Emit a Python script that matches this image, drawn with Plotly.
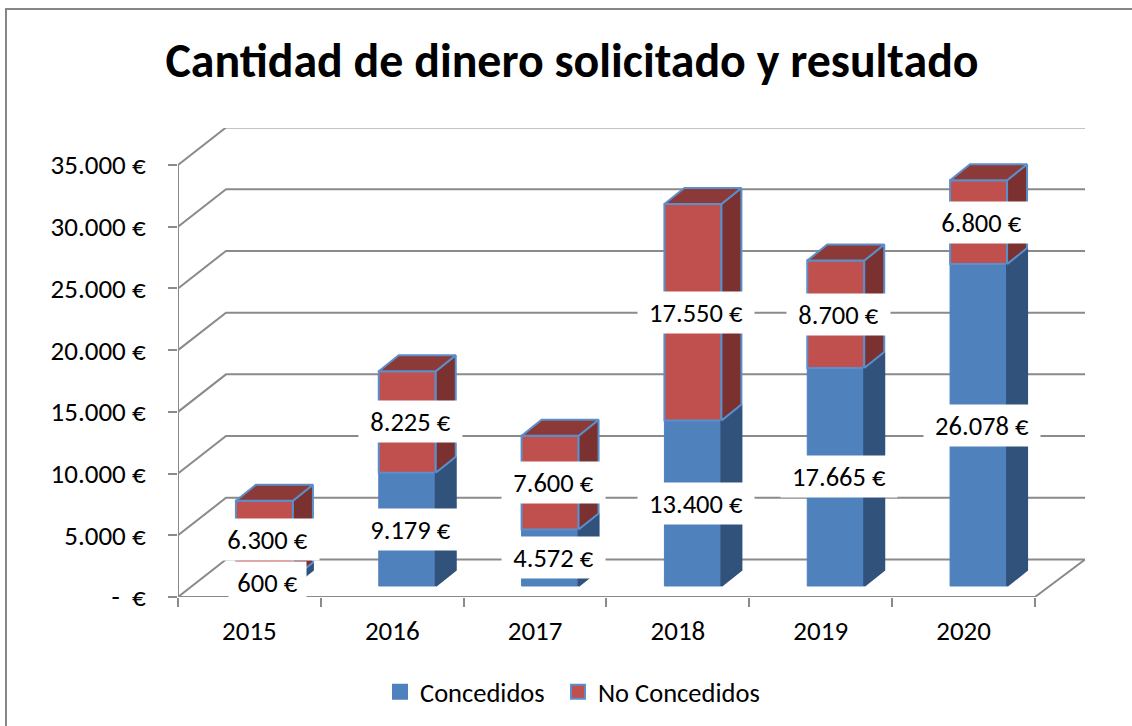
import plotly.graph_objects as go

years = ["2015", "2016", "2017", "2018", "2019", "2020"]
concedidos = [600, 9179, 4572, 13400, 17665, 26078]
no_concedidos = [6300, 8225, 7600, 17550, 8700, 6800]
y_ticks = [0, 5000, 10000, 15000, 20000, 25000, 30000, 35000]
y_tick_labels = ["-  €", "5.000 €", "10.000 €", "15.000 €", "20.000 €", "25.000 €", "30.000 €", "35.000 €"]

# layout geometry (pixels in the 1132x726 canvas)
L, R, T, B = 178, 1085, 128, 597
W, H = 1132, 726
PX_CAT = 142.83
PX_VAL = 12.343 / 1000
FONT = "Carlito, Lato, sans-serif"
BLUE, RED = "#4F81BD", "#C0504D"
BLUE_SIDE, RED_SIDE, RED_TOP = "#31527B", "#7B3130", "#8B3A38"
EDGE = "#5B8FCB"
GRID = "#8A8A8A"
label_shift = 3

x_lo = -0.5
x_hi = x_lo + (R - L) / PX_CAT
y_hi = (B - T) / PX_VAL
dx2 = 15 / PX_CAT
dy2 = 11 / PX_VAL
bar_w = 57 / PX_CAT
depth_x = 20 / PX_CAT
depth_y = 16 / PX_VAL
wall_x = 48 / PX_CAT
wall_y = 37.5 / PX_VAL
xs = list(range(len(years)))

fig = go.Figure()

# walls, floor and gridlines
gx, gy = [], []
for v in y_ticks:
    gx += [x_lo, x_lo + wall_x, x_hi, None]
    gy += [v, v + wall_y, v + wall_y, None]
gx += [x_lo, x_lo, None, x_lo, x_lo + len(years), x_hi - 0.0, None]
gy += [0, y_ticks[-1], None, 0, 0, wall_y, None]
fig.add_trace(go.Scatter(x=gx, y=gy, mode="lines", line=dict(color=GRID, width=2), cliponaxis=False,
                         showlegend=False, hoverinfo="skip"))

# front faces
fig.add_trace(go.Bar(x=xs, y=concedidos, name="Concedidos", width=bar_w, xaxis="x2", yaxis="y2",
                     showlegend=False, marker=dict(color=BLUE, line=dict(color=BLUE, width=1))))
fig.add_trace(go.Bar(x=xs, y=no_concedidos, base=concedidos, name="No Concedidos", width=bar_w,
                     showlegend=False, xaxis="x2", yaxis="y2",
                     marker=dict(color=RED, line=dict(color=EDGE, width=2))))


def poly(faces, color, edge):
    px, py = [], []
    for f in faces:
        px += [p[0] for p in f] + [None]
        py += [p[1] for p in f] + [None]
    fig.add_trace(go.Scatter(x=px, y=py, xaxis="x2", yaxis="y2", mode="lines", fill="toself",
                             fillcolor=color, line=dict(color=edge, width=2), cliponaxis=False,
                             showlegend=False, hoverinfo="skip"))


def side(x, y0, y1):
    r = x + bar_w / 2
    return [(r, y0), (r + depth_x, y0 + depth_y), (r + depth_x, y1 + depth_y), (r, y1), (r, y0)]


def top(x, y):
    l, r = x - bar_w / 2, x + bar_w / 2
    return [(l, y), (l + depth_x, y + depth_y), (r + depth_x, y + depth_y), (r, y), (l, y)]


poly([side(x, 0, c) for x, c in zip(xs, concedidos)], BLUE_SIDE, BLUE_SIDE)
poly([side(x, c, c + n) for x, c, n in zip(xs, concedidos, no_concedidos)], RED_SIDE, EDGE)
poly([top(x, c + n) for x, c, n in zip(xs, concedidos, no_concedidos)], RED_TOP, EDGE)

# legend keys
for name, col, edge, lg in [("Concedidos", BLUE, BLUE, "legend"), ("No Concedidos", RED, EDGE, "legend2")]:
    fig.add_trace(go.Scatter(x=[None], y=[None], mode="markers", name=name, legend=lg,
                             marker=dict(symbol="square", size=14, color=col, line=dict(color=edge, width=2))))

# data labels
annotations = []


def label(x, mid, value):
    txt = f"{value:,}".replace(",", ".") + " €"
    annotations.append(dict(x=x, y=mid, xref="x2", yref="y2", text=txt, showarrow=False,
                            xshift=label_shift, bgcolor="white", width=len(txt) * 13 + 2, height=31,
                            borderpad=5, font=dict(family=FONT, size=26.5, color="#000")))


for x, c, n in zip(xs, concedidos, no_concedidos):
    label(x, c + n / 2, n)
for x, c in zip(xs, concedidos):
    label(x, c / 2, c)

legend_common = dict(orientation="h", xanchor="left", yref="container", y=1 - 692 / H, yanchor="middle",
                     font=dict(family=FONT, size=26.5, color="#000"),
                     bgcolor="rgba(0,0,0,0)", itemwidth=30, itemsizing="trace")

fig.update_layout(
    width=W, height=H, autosize=False,
    margin=dict(l=L, r=W - R, t=T, b=H - B, pad=0),
    paper_bgcolor="white", plot_bgcolor="rgba(0,0,0,0)",
    barmode="overlay",
    title=dict(text="<b>Cantidad de dinero solicitado y resultado</b>", x=572 / W, xanchor="center",
               y=1 - 60 / H, yanchor="middle", font=dict(family=FONT, size=47.9, color="#000")),
    xaxis=dict(range=[x_lo, x_hi], tickvals=xs, ticktext=years, showgrid=False, zeroline=False,
               showline=False, ticks="", ticklabelstandoff=15,
               tickfont=dict(family=FONT, size=27, color="#000"),
               minor=dict(tickvals=[x_lo + i for i in range(len(years) + 1)], ticks="outside",
                          ticklen=9, tickwidth=2, tickcolor=GRID, showgrid=False)),
    yaxis=dict(range=[0, y_hi], tickvals=y_ticks, ticktext=y_tick_labels, showgrid=False, zeroline=False,
               showline=False, ticks="outside", ticklen=9, tickwidth=2, tickcolor=GRID,
               ticklabelstandoff=17, tickfont=dict(family=FONT, size=27, color="#000")),
    xaxis2=dict(range=[x_lo - dx2, x_hi - dx2], overlaying="x", visible=False),
    yaxis2=dict(range=[-dy2, y_hi - dy2], overlaying="y", visible=False),
    legend=dict(x=(380 - L) / (R - L), **legend_common),
    legend2=dict(x=(558 - L) / (R - L), **legend_common),
    annotations=annotations,
    shapes=[dict(type="rect", xref="paper", yref="paper",
                 x0=(6 - L) / (R - L), x1=(W + 20 - L) / (R - L),
                 y0=(B - H - 20) / (B - T), y1=(B - 9) / (B - T),
                 line=dict(color="#868686", width=2), layer="below")],
    showlegend=True,
)
fig.write_html("out.html", config={"displayModeBar": False},
               post_script="document.body.style.margin='0';")
